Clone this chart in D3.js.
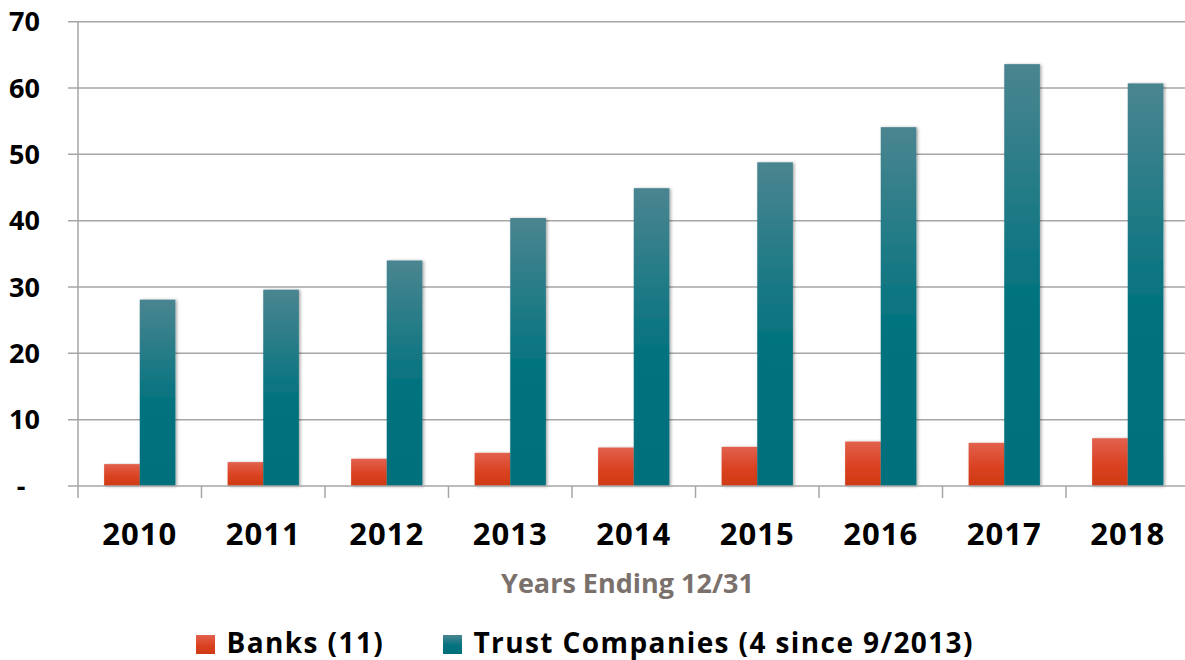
<!DOCTYPE html>
<html>
<head>
<meta charset="utf-8">
<script src="https://cdn.jsdelivr.net/npm/d3@7"></script>
<style>
  body { margin: 0; background: #fff; }
  svg { display: block; font-family: "Open Sans", "Noto Sans", sans-serif; }
</style>
</head>
<body>
<div id="chart"></div>
<script>
const width = 1185;
const height = 660;

const years = ["2010", "2011", "2012", "2013", "2014", "2015", "2016", "2017", "2018"];
const banks = [3.3, 3.6, 4.1, 5.0, 5.8, 5.9, 6.7, 6.5, 7.2];
const trusts = [28.1, 29.6, 34.0, 40.4, 44.9, 48.8, 54.1, 63.6, 60.7];
const seriesNames = ["Banks (11)", "Trust Companies (4 since 9/2013)"];
const yTicks = [0, 10, 20, 30, 40, 50, 60, 70];

const plotLeft = 78, plotRight = 1189.5, plotTop = 21.7, plotBottom = 486;

const svg = d3.select("#chart").append("svg")
  .attr("width", width)
  .attr("height", height);

const defs = svg.append("defs");

// vertical gradients for bars
const gradBank = defs.append("linearGradient")
  .attr("id", "gBank").attr("x1", 0).attr("y1", 0).attr("x2", 0).attr("y2", 1);
gradBank.append("stop").attr("offset", "0%").attr("stop-color", "#e2614d");
gradBank.append("stop").attr("offset", "55%").attr("stop-color", "#da4222");
gradBank.append("stop").attr("offset", "100%").attr("stop-color", "#cf3a12");

const gradTrust = defs.append("linearGradient")
  .attr("id", "gTrust").attr("x1", 0).attr("y1", 0).attr("x2", 0).attr("y2", 1);
gradTrust.append("stop").attr("offset", "0%").attr("stop-color", "#4a8590");
gradTrust.append("stop").attr("offset", "55%").attr("stop-color", "#03737f");
gradTrust.append("stop").attr("offset", "100%").attr("stop-color", "#006f7c");

const shadow = defs.append("filter").attr("id", "shadow")
  .attr("x", "-20%").attr("y", "-5%").attr("width", "150%").attr("height", "115%");
shadow.append("feDropShadow")
  .attr("dx", 1.5).attr("dy", 0.5).attr("stdDeviation", 1.5)
  .attr("flood-color", "#000").attr("flood-opacity", 0.35);

const x0 = d3.scaleBand()
  .domain(years)
  .range([plotLeft, plotRight])
  .paddingInner(0.423)
  .paddingOuter(0.2115);

const x1 = d3.scaleBand()
  .domain([0, 1])
  .range([0, x0.bandwidth()]);

const y = d3.scaleLinear()
  .domain([0, 70])
  .range([plotBottom, plotTop]);

// gridlines
svg.append("g")
  .selectAll("line")
  .data(yTicks.filter(d => d > 0))
  .join("line")
  .attr("x1", plotLeft - 10)
  .attr("x2", plotRight)
  .attr("y1", d => y(d))
  .attr("y2", d => y(d))
  .attr("stroke", "#a6a6a6")
  .attr("stroke-width", 1.5);

// y axis labels
svg.append("g")
  .selectAll("text")
  .data(yTicks)
  .join("text")
  .attr("x", d => d === 0 ? 21 : 40)
  .attr("y", d => y(d) + 9.5)
  .attr("text-anchor", d => d === 0 ? "middle" : "end")
  .attr("font-size", "27px")
  .attr("font-weight", 700)
  .attr("fill", "#000")
  .text(d => d === 0 ? "-" : d);

// bars
const groups = svg.append("g")
  .selectAll("g")
  .data(years.map((yr, i) => ({ yr, vals: [banks[i], trusts[i]] })))
  .join("g")
  .attr("transform", d => `translate(${x0(d.yr)},0)`);

groups.selectAll("rect")
  .data(d => d.vals.map((v, k) => ({ k, v })))
  .join("rect")
  .attr("x", d => x1(d.k))
  .attr("y", d => y(d.v))
  .attr("width", x1.bandwidth())
  .attr("height", d => y(0) - y(d.v))
  .attr("fill", d => d.k === 0 ? "url(#gBank)" : "url(#gTrust)")
  .attr("filter", "url(#shadow)");

// axes lines
svg.append("line")
  .attr("x1", plotLeft - 10).attr("x2", plotRight)
  .attr("y1", y(0)).attr("y2", y(0))
  .attr("stroke", "#a6a6a6").attr("stroke-width", 1.5);
svg.append("line")
  .attr("x1", plotLeft).attr("x2", plotLeft)
  .attr("y1", plotTop).attr("y2", y(0) + 12)
  .attr("stroke", "#a6a6a6").attr("stroke-width", 1.5);

// x tick marks at band edges
svg.append("g")
  .selectAll("line")
  .data(years.slice(1))
  .join("line")
  .attr("x1", d => x0(d) - x0.step() * x0.paddingInner() / 2)
  .attr("x2", d => x0(d) - x0.step() * x0.paddingInner() / 2)
  .attr("y1", y(0))
  .attr("y2", y(0) + 12)
  .attr("stroke", "#a6a6a6").attr("stroke-width", 1.5);

// x labels
svg.append("g")
  .selectAll("text")
  .data(years)
  .join("text")
  .attr("x", d => x0(d) + x0.bandwidth() / 2)
  .attr("y", 545)
  .attr("text-anchor", "middle")
  .attr("font-size", "31px")
  .attr("font-weight", 700)
  .attr("letter-spacing", "1px")
  .attr("fill", "#000")
  .text(d => d);

// axis title
svg.append("text")
  .attr("x", 627.5)
  .attr("y", 592.5)
  .attr("text-anchor", "middle")
  .attr("font-size", "27px")
  .attr("font-weight", 700)
  .attr("fill", "#7a716c")
  .text("Years Ending 12/31");

// legend
const legendX = [196, 443];
const legend = svg.append("g");
legend.selectAll("rect")
  .data(seriesNames)
  .join("rect")
  .attr("x", (d, i) => legendX[i])
  .attr("y", 635)
  .attr("width", 19)
  .attr("height", 19)
  .attr("fill", (d, i) => i === 0 ? "url(#gBank)" : "url(#gTrust)");
legend.selectAll("text")
  .data(seriesNames)
  .join("text")
  .attr("x", (d, i) => legendX[i] + 30.5)
  .attr("y", 653)
  .attr("font-size", "28px")
  .attr("font-weight", 700)
  .attr("letter-spacing", "1.4px")
  .attr("fill", "#000")
  .text(d => d);
</script>
</body>
</html>
